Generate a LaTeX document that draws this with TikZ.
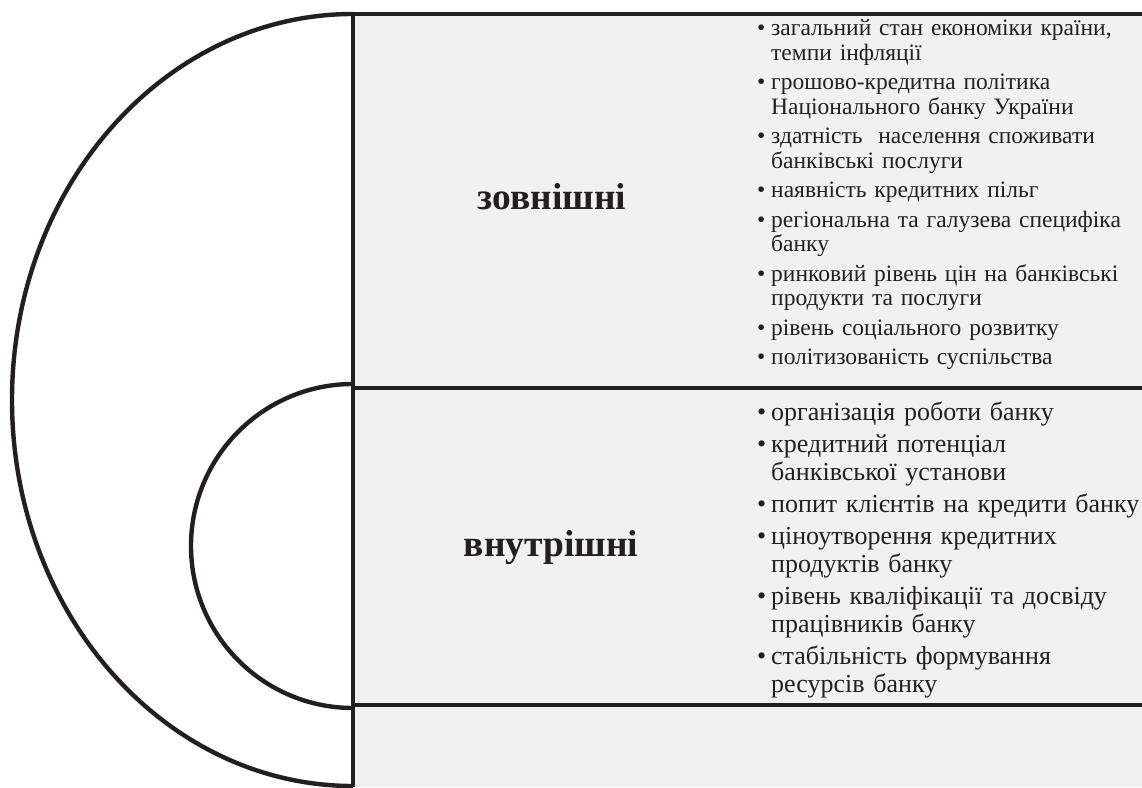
\documentclass[tikz,border=0pt]{standalone}
\usepackage{fontspec}
\setmainfont{Liberation Serif}
\newcommand{\bitem}[2][4pt]{\par\hangindent=14pt\hangafter=1\noindent
  \makebox[14pt][l]{\textbullet}\strut#2\par\vspace{#1}}

\begin{document}
\begin{tikzpicture}[
  x=1pt, y=1pt,
  rule/.style={draw=ink, line width=4.4pt},
  lab/.style={inner sep=0pt, anchor=base, font=\fontsize{37.5}{44}\selectfont\bfseries, text=ink},
  list/.style={inner sep=0pt, anchor=north west, align=left, text width=420pt, text=ink},
]
\definecolor{ink}{HTML}{231F20}
\definecolor{pane}{HTML}{F1F1F1}
\useasboundingbox (0,0) rectangle (1142,787);

% grey pane and corner points
\fill[pane] (353,773) rectangle (1142,0);
\coordinate (tl) at (353,773);
\coordinate (tr) at (1142,773);
\coordinate (ml) at (353,399);
\coordinate (mr) at (1142,399);
\coordinate (bl) at (353,82);
\coordinate (br) at (1142,82);
\coordinate (vb) at (353,0);
\coordinate (ci) at (353,403);

% lists first, so the top rule may cover the first line a little
\node[list, font=\fontsize{23.5}{24.5}\selectfont] (zl) at (757,776) {%
  \bitem[5pt]{загальний стан економіки країни,\newline темпи інфляції}%
  \bitem[5pt]{грошово-кредитна політика\newline Національного банку України}%
  \bitem[5pt]{здатність \ населення споживати\newline банківські послуги}%
  \bitem[5pt]{наявність кредитних пільг}%
  \bitem[5pt]{регіональна та галузева специфіка\newline банку}%
  \bitem[5pt]{ринковий рівень цін на банківські\newline продукти та послуги}%
  \bitem[5pt]{рівень соціального розвитку}%
  \bitem[5pt]{політизованість суспільства}};

\node[list, font=\fontsize{26}{28}\selectfont] (vl) at (757,395) {%
  \bitem{організація роботи банку}%
  \bitem{кредитний потенціал\newline банківської установи}%
  \bitem{попит клієнтів на кредити банку}%
  \bitem{ціноутворення кредитних\newline продуктів банку}%
  \bitem{рівень кваліфікації та досвіду\newline працівників банку}%
  \bitem{стабільність формування\newline ресурсів банку}};

% arcs
\draw[rule] (tl) arc[start angle=90, end angle=270, x radius=341, y radius=386];
\draw[rule] (ci) arc[start angle=90, end angle=270, radius=162];

% frame lines
\draw[rule] (tl) -- (vb);
\draw[rule] (tl) -- (tr);
\draw[rule] (ml) -- (mr);
\draw[rule] (bl) -- (br);

\node[lab] (lz) at (552,577) {зовнішні};
\node[lab] (lv) at (551,230) {внутрішні};
\end{tikzpicture}
\end{document}
